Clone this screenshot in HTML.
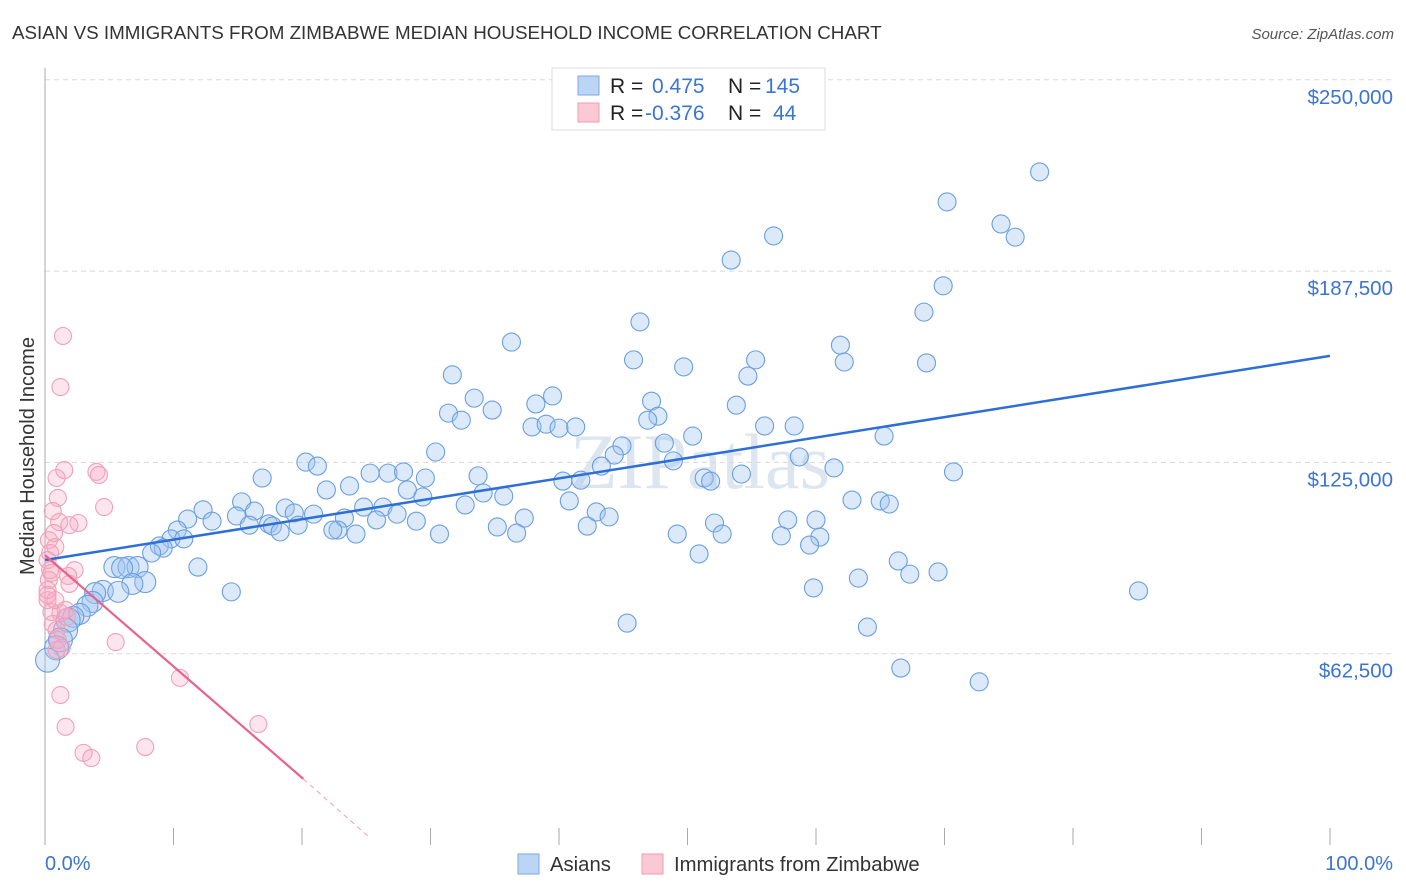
<!DOCTYPE html>
<html><head><meta charset="utf-8"><style>
body{margin:0;background:#fff;font-family:"Liberation Sans",sans-serif}
#wrap{position:relative;width:1406px;height:892px;overflow:hidden}
</style></head><body>
<div id="wrap">
<svg id="svg" width="1406" height="892">
<text x="12" y="39" font-size="18.8" fill="#333">ASIAN VS IMMIGRANTS FROM ZIMBABWE MEDIAN HOUSEHOLD INCOME CORRELATION CHART</text>
<text x="1394" y="39" font-size="15" fill="#555" font-style="italic" text-anchor="end">Source: ZipAtlas.com</text>
<text transform="translate(34,456) rotate(-90)" font-size="20" fill="#333" text-anchor="middle">Median Household Income</text>
<text x="700" y="488" font-size="78" fill="#dde6f0" text-anchor="middle" font-family="Liberation Serif">ZIPatlas</text>
<g id="grid"></g><g id="pts"></g><g id="lines"></g>
<g>
<rect x="552" y="68" width="273" height="62" fill="#fff" stroke="#ddd"/>
<rect x="578" y="76" width="21" height="19" fill="#bcd5f5" stroke="#7aa9e6"/>
<rect x="578" y="103" width="21" height="19" fill="#fcc9d6" stroke="#f29ab3"/>
<text x="610" y="93" font-size="21" fill="#222">R =</text><text x="652" y="93" font-size="21" fill="#3a74d4">0.475</text>
<text x="728" y="93" font-size="21" fill="#222">N =</text><text x="765" y="93" font-size="21" fill="#3a74d4">145</text>
<text x="610" y="120" font-size="21" fill="#222">R =</text><text x="645" y="120" font-size="21" fill="#3a74d4">-0.376</text>
<text x="728" y="120" font-size="21" fill="#222">N =</text><text x="773" y="120" font-size="21" fill="#3a74d4">44</text>
</g>
<g>
<rect x="518" y="854" width="21" height="20" fill="#bcd5f5" stroke="#7aa9e6"/>
<text x="550" y="871" font-size="20.3" fill="#333">Asians</text>
<rect x="642" y="854" width="21" height="20" fill="#fcc9d6" stroke="#f29ab3"/>
<text x="674" y="871" font-size="20.3" fill="#333">Immigrants from Zimbabwe</text>
</g>
</svg>
</div>
<script>
const yTicks=[62500,125000,187500,250000];
const yTickLabels=["$62,500","$125,000","$187,500","$250,000"];
const xTicks=[0,10,20,30,40,50,60,70,80,90,100];
const asianX=[77.4,70.2,74.4,75.5,56.7,53.4,69.9,68.4,46.3,36.3,61.9,45.8,55.3,49.7,62.2,68.6,31.7,54.7,33.4,39.5,47.2,38.2,53.8,31.4,34.8,32.4,47.7,46.9,37.9,39.0,40.0,41.3,56.0,58.3,50.4,65.3,48.2,44.9,30.4,44.3,58.7,48.9,20.3,21.2,16.9,29.6,43.3,61.4,70.7,25.3,26.7,27.9,33.7,40.3,41.7,51.3,51.8,54.2,23.7,21.9,28.2,29.4,34.1,35.7,40.8,62.8,65.0,65.7,32.7,15.3,24.8,26.3,18.7,12.3,16.3,20.9,19.4,42.9,27.4,11.1,14.9,23.3,43.9,37.3,25.8,28.9,52.1,60.0,57.8,13.0,17.4,15.9,17.7,19.7,10.3,35.2,42.2,22.8,18.3,22.4,36.7,24.2,30.7,49.2,52.7,57.3,60.3,9.8,10.8,8.9,59.5,9.2,8.3,50.9,66.4,5.4,6.5,7.2,11.9,6.0,67.3,69.5,63.3,7.8,6.8,4.5,59.8,85.1,14.5,3.9,5.7,3.7,3.3,2.7,2.2,45.3,1.8,1.6,64.0,1.2,0.9,0.2,66.6,72.7];
const asianY=[219.9,210.1,202.9,198.6,199.0,191.1,182.7,174.1,170.9,164.3,163.3,158.5,158.5,156.2,157.8,157.5,153.6,153.2,146.0,146.7,145.0,144.1,143.7,141.1,142.1,138.8,140.1,138.8,136.6,137.5,136.2,136.6,136.9,136.9,133.6,133.6,131.3,130.4,128.4,127.4,126.8,125.5,125.1,123.8,119.9,119.9,123.8,123.2,121.9,121.5,121.5,121.9,120.6,118.9,119.2,119.9,118.9,121.2,117.3,116.0,116.0,113.7,115.0,114.0,112.4,112.7,112.4,111.4,111.1,112.1,110.4,110.4,110.1,109.5,109.1,108.1,108.5,108.8,108.1,106.5,107.5,106.8,107.2,106.8,106.2,105.8,105.2,106.2,106.2,105.8,104.9,104.5,104.2,104.5,102.9,103.9,104.2,102.9,102.3,102.9,101.9,101.6,101.6,101.6,101.6,101.0,100.6,100.0,100.0,97.7,98.0,97.0,95.4,95.1,92.8,90.8,90.8,90.8,90.8,90.5,88.5,89.2,87.2,85.9,85.3,83.0,84.0,83.0,82.7,82.3,82.7,79.4,78.1,75.5,74.5,72.5,73.5,70.2,71.2,67.0,64.4,60.4,57.8,53.3];
const zimX=[1.4,1.2,1.5,4.0,4.2,0.9,1.0,4.6,0.6,1.1,2.6,1.9,0.7,0.3,0.8,0.4,0.2,2.3,0.5,1.8,0.3,1.9,0.2,0.5,1.2,1.7,0.6,0.9,1.0,1.3,5.5,10.5,1.2,1.6,16.6,3.0,3.6,7.8,0.8,0.2,1.6,0.2,0.4,0.9];
const zimY=[166.3,149.6,122.5,121.9,120.9,119.9,113.4,110.4,109.1,105.5,105.2,104.5,101.9,99.6,97.4,95.4,93.1,89.8,88.9,87.9,86.6,85.3,80.0,76.1,75.8,74.5,72.2,70.2,67.0,64.4,66.3,54.6,49.0,38.6,39.5,30.1,28.4,32.0,80.0,83.3,76.8,81.7,89.8,63.7];
const asianTrend=[[0,93.1],[100,159.8]];
const zimTrend=[[0,94.7],[20.1,21.6]];
const zimTrendExt=[[20.1,21.6],[25.3,2.3]];
const NS="http://www.w3.org/2000/svg";
const X=v=>45+v*12.85, Y=k=>845-k*1000/62500*191.3;
function mk(t,a,p){const e=document.createElementNS(NS,t);for(const k in a)e.setAttribute(k,a[k]);p.appendChild(e);return e;}
const grid=document.getElementById('grid');
yTicks.forEach((v,i)=>{const y=Y(v/1000);
 const l=mk('line',{x1:45,x2:1393,y1:y,y2:y,stroke:'#d8d8d8','stroke-dasharray':'5,4'},grid);
 
 
 const t=mk('text',{x:1393,y:y+24,'font-size':20.5,fill:'#3a74d4','text-anchor':'end'},grid);t.textContent=yTickLabels[i];
 
 });
const ax=mk('line',{x1:45,x2:45,y1:68,y2:845,stroke:'#aaa'},grid);


xTicks.forEach(v=>{const l=mk('line',{x1:X(v),x2:X(v),y1:828,y2:845,stroke:'#aaa'},grid);
 
 });
[["0.0%",45,'start'],["100.0%",1393,'end']].forEach(a=>{const t=mk('text',{x:a[1],y:870,'font-size':20,fill:'#3a74d4','text-anchor':a[2]},grid);t.textContent=a[0];
 
 });
const pts=document.getElementById('pts');
asianX.forEach((x,i)=>{const r=x<2?12:(x<8?10.5:9);
 const c=mk('circle',{cx:X(x),cy:Y(asianY[i]),r:r,fill:'rgba(160,196,240,0.38)',stroke:'#6a9fe0','stroke-width':1.1},pts);
 
 });
zimX.forEach((x,i)=>{const c=mk('circle',{cx:X(x),cy:Y(zimY[i]),r:8.5,fill:'rgba(248,170,195,0.3)',stroke:'#f0a0b8','stroke-width':1.1},pts);
 
 });
const lines=document.getElementById('lines');
let l=mk('line',{x1:X(asianTrend[0][0]),y1:Y(asianTrend[0][1]),x2:X(asianTrend[1][0]),y2:Y(asianTrend[1][1]),stroke:'#2e6fd6','stroke-width':2.5},lines);


l=mk('line',{x1:X(zimTrend[0][0]),y1:Y(zimTrend[0][1]),x2:X(zimTrend[1][0]),y2:Y(zimTrend[1][1]),stroke:'#e8628c','stroke-width':2.2},lines);


l=mk('line',{x1:X(zimTrendExt[0][0]),y1:Y(zimTrendExt[0][1]),x2:X(zimTrendExt[1][0]),y2:Y(zimTrendExt[1][1]),stroke:'#f0a0b8','stroke-width':1,'stroke-dasharray':'5,4'},lines);


</script>
</body></html>
